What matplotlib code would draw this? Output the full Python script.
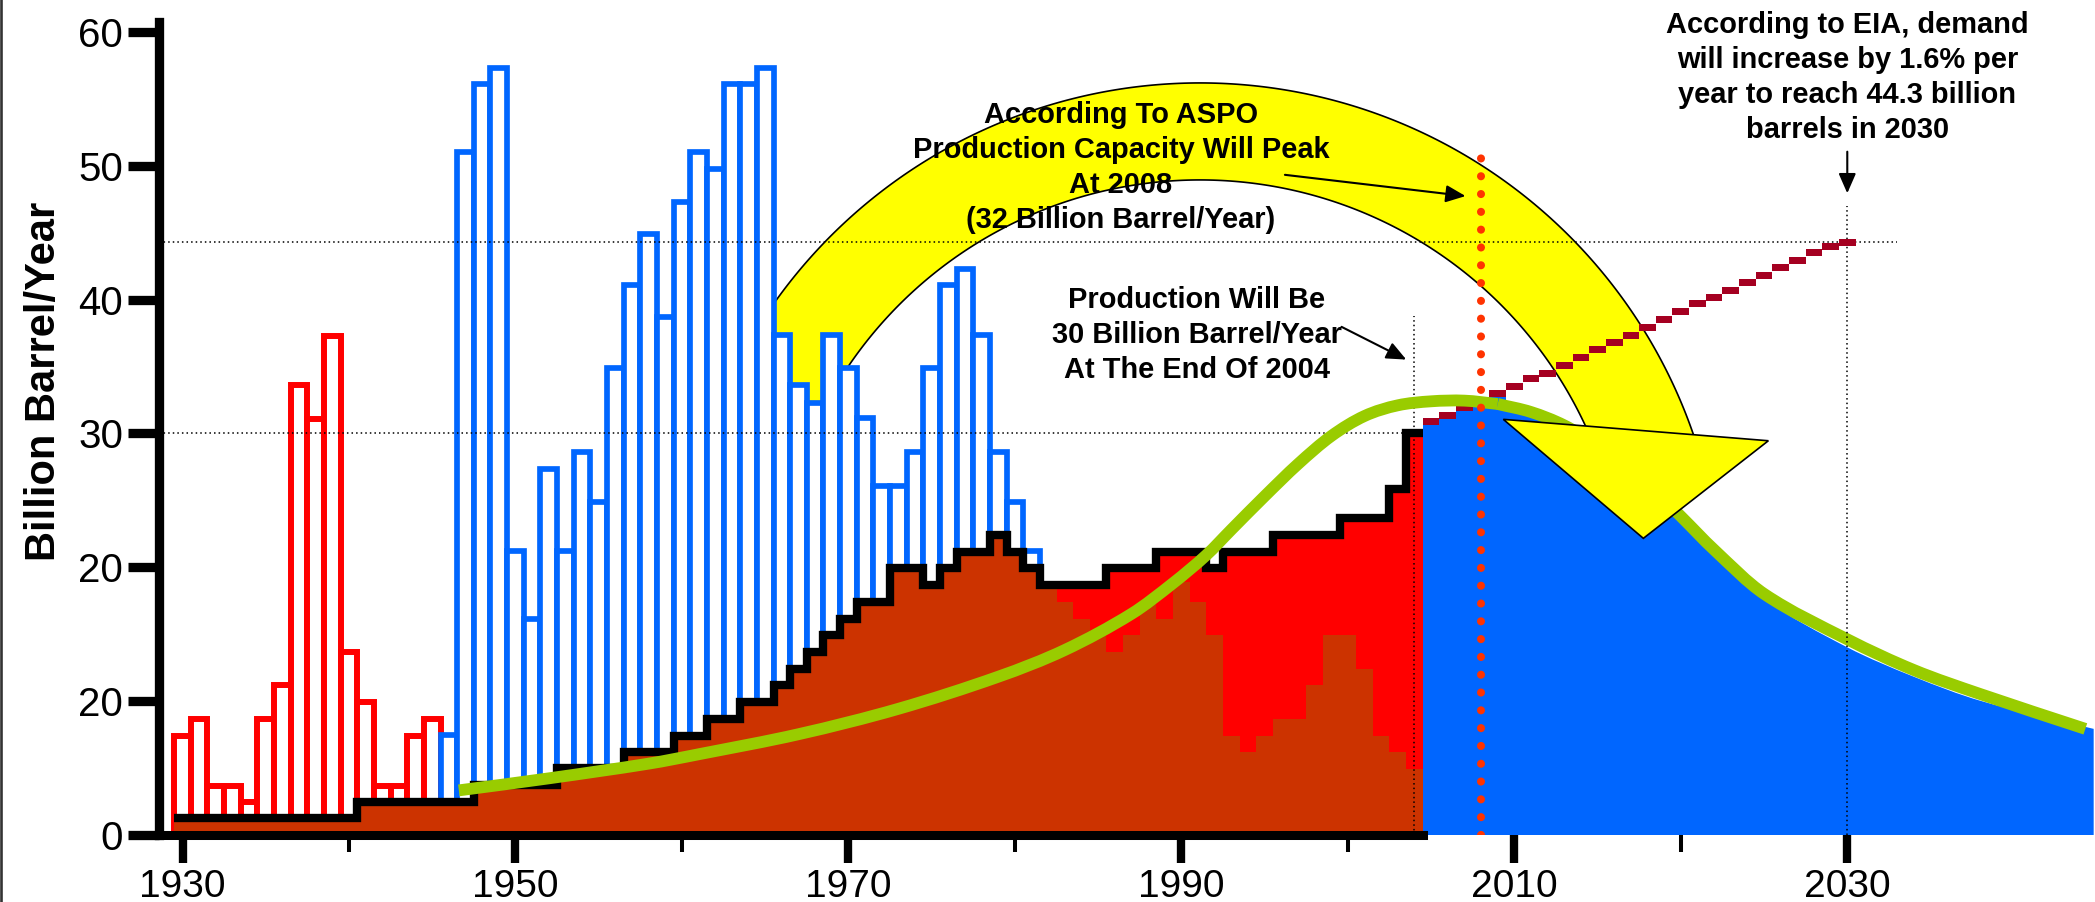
import numpy as np
import matplotlib
matplotlib.use("Agg")
import matplotlib.pyplot as plt
from matplotlib.patches import Polygon, PathPatch
from matplotlib.path import Path
from matplotlib.lines import Line2D

plt.rcParams["font.family"] = ["Liberation Sans", "DejaVu Sans"]

# ---------------------------------------------------------------- data
# yearly discoveries (outlined bars), billion barrels
disc_years_red = list(range(1930, 1946))
disc_red = [7.4, 8.65, 3.65, 3.65, 2.4, 8.65, 11.15, 33.6, 31.1, 37.3,
            13.65, 9.9, 3.65, 3.65, 7.4, 8.65]
disc_years_blue = list(range(1946, 1982))
disc_blue = [7.45, 51.05, 56.1, 57.3, 21.2, 16.15, 27.35, 21.2, 28.6, 24.9,
             34.9, 41.1, 44.9, 38.7, 47.3, 51.05, 49.75, 56.1, 56.1, 57.3,
             37.35, 33.6, 32.3, 37.35, 34.9, 31.15, 26.1, 26.1, 28.6, 34.9,
             41.1, 42.3, 37.35, 28.6, 24.9, 21.2]

# yearly production 1930-2004
prod_years = np.arange(1930, 2005)
production = ([1.2] * 11 + [2.45] * 7 + [3.7] * 5 + [4.95] * 4 + [6.15] * 3 +
              [7.4] * 2 + [8.65] * 2 + [9.9] * 2 +
              [11.15, 12.4, 13.65, 14.9, 16.15, 17.4, 17.4, 19.9, 19.9, 18.65,
               19.9, 21.15, 21.15, 22.4, 21.15, 19.9,
               18.65, 18.65, 18.65, 18.65, 19.9, 19.9, 19.9,
               21.15, 21.15, 21.15, 19.9, 21.15, 21.15, 21.15,
               22.4, 22.4, 22.4, 22.4, 23.65, 23.65, 23.65, 25.85, 30.0])
# lower production component, identical to the total up to 1982
lower_years_tail = np.arange(1983, 2005)
lower_tail = [17.4, 16.15, 14.9, 13.65, 14.9, 17.4, 16.15, 18.9, 17.4, 14.9,
              7.4, 6.15, 7.4, 8.65, 8.65, 11.15, 14.9, 14.9, 12.4, 7.4, 6.15, 4.9]

# forecast production
fc_years = [2005, 2006, 2007, 2008, 2009]
fc_step = [30.6, 31.25, 31.75, 32.0, 32.9]
decline_years = [2009, 2011, 2013, 2015, 2017, 2019, 2020, 2022, 2025, 2030,
                 2034, 2038, 2044.8]
decline_vals = [31.9, 31.2, 30.2, 28.7, 26.8, 24.6, 23.4, 20.9, 17.6, 14.0,
                11.8, 10.0, 7.9]

# Hubbert-type production curve
green_years = [1946.6, 1952, 1958, 1961, 1967, 1973, 1979, 1983, 1987, 1989.5,
               1991.5, 1993, 1995, 1997, 1999, 2001, 2003, 2005, 2007, 2009,
               2011, 2013, 2015, 2017, 2019, 2020, 2022, 2025, 2030, 2034,
               2038, 2044.3]
green_vals = [3.3, 4.2, 5.3, 6.0, 7.5, 9.4, 11.8, 13.8, 16.5, 18.8,
              20.9, 22.8, 25.3, 27.7, 29.8, 31.3, 32.1, 32.4, 32.45, 32.2,
              31.6, 30.6, 29.1, 27.2, 25.0, 23.8, 21.3, 18.0, 14.6, 12.3,
              10.5, 7.9]

# EIA demand projection
demand_years = list(range(2005, 2031))
demand = [30.86, 31.35, 31.9, 32.45, 33.0, 33.5, 34.1, 34.5, 35.1, 35.7,
          36.25, 36.8, 37.35, 37.9, 38.5, 39.1, 39.7, 40.2, 40.7, 41.25,
          41.8, 42.4, 42.95, 43.5, 44.0, 44.3]

peak_year = 2008
y_ticks = [0, 10, 20, 30, 40, 50, 60]
y_tick_labels = ["0", "20", "20", "30", "40", "50", "60"]
x_major = [1930, 1950, 1970, 1990, 2010, 2030]
x_minor = [1940, 1960, 1980, 2000, 2020]

RED = "#FF0000"
BLUE = "#0066FF"
BROWN = "#CC3300"
GREEN = "#99CC00"
YELLOW = "#FFFF00"
MAROON = "#A50021"
DOTRED = "#FF3300"


def hermite_path(xs, ys):
    """Smooth cubic path through the given points (monotone in x)."""
    x = np.asarray(xs, float)
    y = np.asarray(ys, float)
    n = len(x)
    m = np.empty(n)
    m[0] = (y[1] - y[0]) / (x[1] - x[0])
    m[-1] = (y[-1] - y[-2]) / (x[-1] - x[-2])
    m[1:-1] = (y[2:] - y[:-2]) / (x[2:] - x[:-2])
    verts = [(x[0], y[0])]
    codes = [Path.MOVETO]
    for i in range(n - 1):
        h = (x[i + 1] - x[i]) / 3.0
        verts += [(x[i] + h, y[i] + m[i] * h),
                  (x[i + 1] - h, y[i + 1] - m[i + 1] * h),
                  (x[i + 1], y[i + 1])]
        codes += [Path.CURVE4] * 3
    return verts, codes


# ---------------------------------------------------------------- figure
W, H = 2095, 902
fig = plt.figure(figsize=(W / 100, H / 100), dpi=100)
left_px, bottom_px, top_px = 158.7, 834.5, 22.0
ax = fig.add_axes([left_px / W, (H - bottom_px) / H,
                   (W - left_px) / W, (bottom_px - top_px) / H])
x0, x1 = 1928.57, 2044.88
y0, y1 = 0.0, 60.77
ax.set_xlim(x0, x1)
ax.set_ylim(y0, y1)
px_per_year = (W - left_px) / (x1 - x0)
px_per_unit = (bottom_px - top_px) / (y1 - y0)

for side in ("top", "right"):
    ax.spines[side].set_visible(False)
ax.spines["left"].set_linewidth(6.7)
ax.spines["bottom"].set_linewidth(6.5)
ax.spines["bottom"].set_bounds(x0, prod_years[-1] + 0.5)
for side in ("left", "bottom"):
    ax.spines[side].set_zorder(3.5)

ax.set_yticks(y_ticks)
ax.set_yticklabels(y_tick_labels)
ax.set_xticks(x_major)
ax.set_xticks(x_minor, minor=True)
ax.set_xticklabels([str(v) for v in x_major])
ax.tick_params(axis="y", direction="out", length=22, width=6.7, pad=3.6,
               labelsize=29)
ax.tick_params(axis="x", which="major", direction="out", length=20, width=6,
               pad=4.5, labelsize=28)
ax.tick_params(axis="x", which="minor", direction="out", length=12.3, width=2.9)

# discovery bars
ax.bar(disc_years_red, disc_red, width=1.0, facecolor="white", edgecolor=RED,
       linewidth=4.3, zorder=2)
ax.bar(disc_years_blue, disc_blue, width=1.0, facecolor="white",
       edgecolor=BLUE, linewidth=4.1, zorder=2)

# historical production
production = np.array(production)
lower = production.copy()
lower[np.searchsorted(prod_years, lower_years_tail[0]):] = lower_tail
edges = np.append(prod_years - 0.5, prod_years[-1] + 0.5)
ax.stairs(production, edges, baseline=0, fill=True, color=RED, lw=0, zorder=3)
ax.stairs(lower, edges, baseline=0, fill=True, color=BROWN, lw=0, zorder=3.05)
ax.stairs(production, edges, baseline=None, color="black", lw=6, zorder=3.2)

# forecast production
fc_edges = np.append(np.array(fc_years) - 0.5, fc_years[-1] + 0.5)
ax.stairs(fc_step, fc_edges, baseline=-0.3, fill=True, color=BLUE, lw=0,
          zorder=1.0)
dv, dc = hermite_path(decline_years, decline_vals)
dv += [(decline_years[-1], -0.3), (decline_years[0], -0.3), (0, 0)]
dc += [Path.LINETO, Path.LINETO, Path.CLOSEPOLY]
ax.add_patch(PathPatch(Path(dv, dc), facecolor=BLUE, lw=0, zorder=1.0))

# Hubbert curve: early part above the histogram, late part under the arrow
k = green_years.index(2009)
for sl, z in ((slice(0, k + 1), 4), (slice(k, None), 1.2)):
    gv, gc = hermite_path(green_years[sl], green_vals[sl])
    ax.add_patch(PathPatch(Path(gv, gc), fill=False, edgecolor=GREEN, lw=8.5,
                           capstyle="butt", joinstyle="round", zorder=z))

# demand staircase
band = 7.0 / px_per_unit
ax.bar(demand_years, band, bottom=np.array(demand) - band / 2, width=1.0,
       color=MAROON, lw=0, zorder=3.9)

# reference lines
dot = dict(color="black", lw=1.1, ls=(0, (1, 2)), zorder=3.3)
ax.plot([x0, 2033.0], [demand[-1]] * 2, **dot)
ax.plot([x0, prod_years[-1]], [production[-1]] * 2, **dot)
ax.plot([prod_years[-1]] * 2, [0, 38.75], **dot)
ax.plot([demand_years[-1]] * 2, [0, 47.0], **dot)
ax.plot([peak_year, peak_year], [0, 51.4], color=DOTRED, lw=5.8,
        ls=(0, (0.01, 2.2)), dash_capstyle="round", zorder=6)

# big curved arrow: concentric arcs (circular on screen) plus a triangular head
cx, cy = 1991.12, 17.17
r_out, r_in = 522.0, 425.0
theta = np.radians(np.linspace(155, 15, 240))
outer = np.column_stack([cx + r_out / px_per_year * np.cos(theta),
                         cy + r_out / px_per_unit * np.sin(theta)])
inner = np.column_stack([cx + r_in / px_per_year * np.cos(theta),
                         cy + r_in / px_per_unit * np.sin(theta)])
ax.add_patch(Polygon(np.vstack([outer, inner[::-1]]), closed=True,
                     facecolor=YELLOW, edgecolor="black", lw=1.2, zorder=1.4))
ax.add_patch(Polygon([(2009.34, 31.05), (2025.26, 29.45), (2017.75, 22.15)],
                     closed=True, facecolor=YELLOW, edgecolor="black", lw=1.2,
                     zorder=1.45))

# annotations
step = 35.0 / px_per_unit
tkw = dict(ha="center", va="baseline", fontsize=20.9, fontweight="bold",
           color="black", zorder=8)


def text_block(lines, x, y_first):
    for i, s in enumerate(lines):
        ax.text(x, y_first - i * step, s, **tkw)


text_block(["According To ASPO", "Production Capacity Will Peak",
            "At 2008", "(32 Billion Barrel/Year)"], 1986.37, 53.19)
text_block(["Production Will Be", "30 Billion Barrel/Year",
            "At The End Of 2004"], 1990.91, 39.36)
text_block(["According to EIA, demand", "will increase by 1.6% per",
            "year to reach 44.3 billion", "barrels in 2030"], 2030.0, 59.93)

akw = dict(arrowstyle="-|>,head_length=0.8,head_width=0.35", color="black",
           lw=1.5, shrinkA=0, shrinkB=0, mutation_scale=15)
ax.annotate("", xy=(2007.07, 47.75), xytext=(1996.22, 49.34),
            arrowprops=akw, zorder=8)
ax.annotate("", xy=(2003.51, 35.52), xytext=(1999.62, 37.97),
            arrowprops=akw, zorder=8)
ax.annotate("", xy=(2030.0, 47.96), xytext=(2030.0, 51.07),
            arrowprops=akw, zorder=8)

fig.text(44 / W, 1 - 381 / H, "Billion Barrel/Year", rotation=90,
         ha="center", va="center", fontsize=30, fontweight="bold")

fig.add_artist(Line2D([1.3 / W, 1.3 / W], [0, 1], transform=fig.transFigure,
                      color="#333333", lw=1.9))

fig.savefig("out.png", dpi=100)
